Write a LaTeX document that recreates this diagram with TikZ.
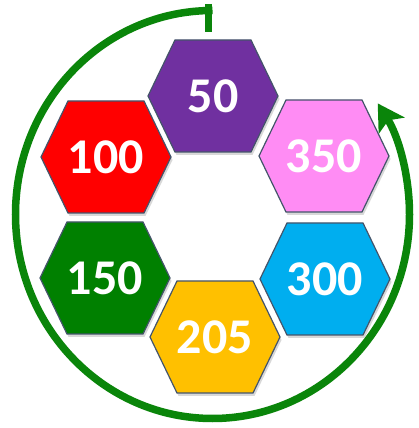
\documentclass[tikz,border=0pt]{standalone}
\usepackage{fontspec}
\setmainfont{Carlito}
\usetikzlibrary{arrows.meta,shadows}
\definecolor{cPurple}{HTML}{7030A0}
\definecolor{cRed}{HTML}{FF0000}
\definecolor{cPink}{HTML}{FF8CF4}
\definecolor{cGreen}{HTML}{008000}
\definecolor{cBlue}{HTML}{00AEEF}
\definecolor{cOrange}{HTML}{FFC000}
\definecolor{ringGreen}{HTML}{0A850A}
\definecolor{hexEdge}{HTML}{44546A}
\begin{document}
\begin{tikzpicture}[x=1pt,y=1pt,
  hexshape/.style={draw=hexEdge, line width=1.2pt, line join=miter,
    drop shadow={opacity=0.3, shadow xshift=1.5pt, shadow yshift=-3pt}},
  numtext/.style={text=white, font=\bfseries\fontsize{50}{50}\selectfont, inner sep=0pt},
  ring/.style={draw=ringGreen, line width=7.5pt},
  pics/hexa/.style n args={2}{code={
    \path[hexshape, fill=#1] (-65,0) -- (-38,-56) -- (38,-56) -- (65,0) -- (38,56) -- (-38,56) -- cycle;
    \node[numtext] (-t) at (0,0) {#2};
  }}
]
\fill[white] (0,0) rectangle (419,428);
\useasboundingbox (0,0) rectangle (419,428);

% ring with arrow
\coordinate (ctr) at (212.5,213.5);
\draw[ring, -{Stealth[length=26pt,width=30pt,inset=6pt]}]
  ([shift={(0,204)}]ctr) arc[start angle=90, end angle=393, x radius=197, y radius=204];
\coordinate (tickTop) at (208.5,424);
\coordinate (tickBot) at (208.5,396);
\draw[ring] (tickTop) -- (tickBot);

% hexagons
\pic (h50)  at (213,332) {hexa={cPurple}{50}};
\pic (h100) at (106,271) {hexa={cRed}{100}};
\pic (h350) at (324,272) {hexa={cPink}{350}};
\pic (h150) at (105,150) {hexa={cGreen}{150}};
\pic (h300) at (325,149) {hexa={cBlue}{300}};
\pic (h205) at (215,91)  {hexa={cOrange}{205}};
\end{tikzpicture}
\end{document}
